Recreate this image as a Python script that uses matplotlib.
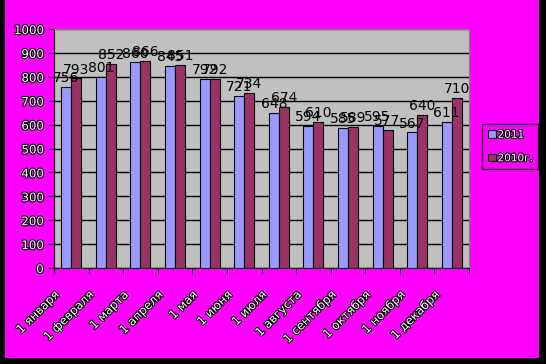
import numpy as np
import matplotlib.pyplot as plt
import matplotlib.patheffects as pe
import matplotlib.transforms as mtransforms
from matplotlib.patches import Rectangle

months = ['1 января', '1 февраля', '1 марта', '1 апреля', '1 мая', '1 июня',
          '1 июля', '1 августа', '1 сентября', '1 октября', '1 ноября', '1 декабря']
v2011 = [756, 801, 860, 845, 792, 721, 648, 594, 585, 595, 567, 611]
v2010 = [793, 852, 866, 851, 792, 734, 674, 610, 589, 577, 640, 710]

outline = [pe.withStroke(linewidth=1.6, foreground='black')]

fig = plt.figure(figsize=(5.46, 3.64), dpi=100, facecolor='black')
# magenta chart area inside the black frame
fig.patches.append(Rectangle((5 / 546, 6 / 364), 534 / 546, 358 / 364,
                             transform=fig.transFigure, facecolor='#FF00FF',
                             edgecolor='none', zorder=-5))

ax = fig.add_axes([54 / 546, 1 - 268 / 364, 415 / 546, 239 / 364])
ax.set_facecolor('#C0C0C0')

x = np.arange(len(months))
w = 0.29
b1 = ax.bar(x - w / 2, v2011, w, color='#9999FF', edgecolor='black', linewidth=0.8,
            label='2011', zorder=3)
b2 = ax.bar(x + w / 2, v2010, w, color='#993366', edgecolor='black', linewidth=0.8,
            label='2010г.', zorder=3)

for i in range(len(months)):
    ax.text(x[i] - w / 2, v2011[i] + 8, str(v2011[i]), ha='center', va='bottom',
            fontsize=10, color='black', zorder=4)
    ax.text(x[i] + w / 2, v2010[i] + 8, str(v2010[i]), ha='center', va='bottom',
            fontsize=10, color='black', zorder=4)

ax.set_xlim(-0.5, len(months) - 0.5)
ax.set_ylim(0, 1000)
ax.set_yticks(range(0, 1001, 100))
ax.yaxis.grid(True, color='black', linewidth=1, zorder=1)
ax.set_axisbelow(True)

ax.set_xticks(np.arange(-0.5, len(months), 1))
ax.set_xticklabels([])
ax.set_xticks(x, minor=True)
ax.set_xticklabels(months, minor=True, rotation=45, ha='right', va='center_baseline',
                   rotation_mode='anchor')
ax.tick_params(axis='x', which='minor', length=0, pad=17)
ax.tick_params(axis='x', which='major', length=4, direction='out', color='black')
ax.tick_params(axis='y', length=4, direction='out', color='black')

shift = mtransforms.ScaledTranslation(-15 / 100, 0, fig.dpi_scale_trans)
for lab in ax.get_xticklabels(minor=True):
    lab.set_transform(lab.get_transform() + shift)

for lab in ax.get_xticklabels(minor=True) + ax.get_yticklabels():
    lab.set_color('white')
    lab.set_fontsize(8.5)
    lab.set_path_effects(outline)

for s in ['top', 'right']:
    ax.spines[s].set_color('#808080')
for s in ['left', 'bottom']:
    ax.spines[s].set_color('black')

leg = fig.legend(handles=[b1, b2], loc='upper left',
                 bbox_to_anchor=(482 / 546, 1 - 124 / 364), frameon=True,
                 fontsize=7.5, handlelength=0.75, handleheight=0.75,
                 handletextpad=0.2, borderpad=0.55, borderaxespad=0,
                 labelspacing=1.3, fancybox=False)
leg.get_frame().set_facecolor('#FF00FF')
leg.get_frame().set_edgecolor('black')
for t in leg.get_texts():
    t.set_color('white')
    t.set_path_effects(outline)

fig.savefig('out.png', dpi=100, facecolor=fig.get_facecolor())
